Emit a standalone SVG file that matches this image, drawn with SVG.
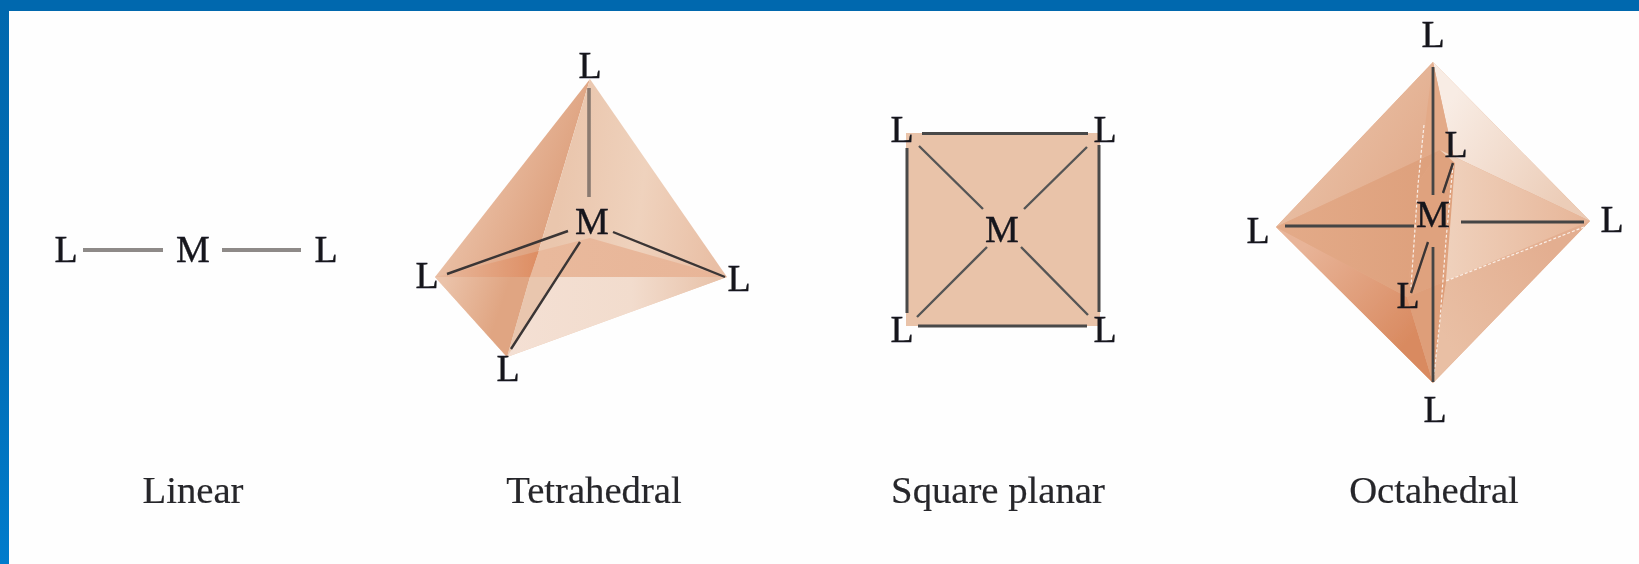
<svg xmlns="http://www.w3.org/2000/svg" width="1639" height="564" viewBox="0 0 1639 564">
<style>
text{font-family:"Liberation Serif","Times New Roman",serif;fill:#15151c;stroke:#15151c;stroke-width:0.35;text-anchor:middle}
.a{font-size:38px}
.c{font-size:38.7px;fill:#26262a;stroke:#26262a;stroke-width:0.2}
.b{stroke:#3a3636;stroke-width:2.4;fill:none}
.g{stroke:#8e8a88;stroke-width:4;fill:none}
.w{stroke:#fbeee6;stroke-width:1.2;stroke-dasharray:3 2;fill:none}
</style>
<defs>
<linearGradient id="barV" x1="0" y1="0" x2="0" y2="1"><stop offset="0" stop-color="#0068ae"/><stop offset="0.55" stop-color="#006cb4"/><stop offset="1" stop-color="#007ccc"/></linearGradient>
<linearGradient id="t1" gradientUnits="userSpaceOnUse" x1="470" y1="200" x2="570" y2="240"><stop offset="0" stop-color="#e9bda2"/><stop offset="1" stop-color="#db9a75"/></linearGradient>
<linearGradient id="t2" gradientUnits="userSpaceOnUse" x1="560" y1="200" x2="720" y2="220"><stop offset="0" stop-color="#eac6ad"/><stop offset="0.5" stop-color="#efd2bd"/><stop offset="1" stop-color="#e9bfa5"/></linearGradient>
<linearGradient id="t3" gradientUnits="userSpaceOnUse" x1="500" y1="300" x2="720" y2="300"><stop offset="0" stop-color="#f4e0d4"/><stop offset="0.6" stop-color="#f2dccd"/><stop offset="1" stop-color="#e8c2a9"/></linearGradient>
<linearGradient id="t4" gradientUnits="userSpaceOnUse" x1="440" y1="290" x2="500" y2="310"><stop offset="0" stop-color="#ebc3aa"/><stop offset="1" stop-color="#e0a582"/></linearGradient>
<linearGradient id="t5a" gradientUnits="userSpaceOnUse" x1="440" y1="270" x2="535" y2="270"><stop offset="0" stop-color="#e8b89c"/><stop offset="1" stop-color="#de8f65"/></linearGradient>
<linearGradient id="t5b" gradientUnits="userSpaceOnUse" x1="540" y1="260" x2="720" y2="260"><stop offset="0" stop-color="#e9b99c"/><stop offset="1" stop-color="#e8b598"/></linearGradient>
<linearGradient id="o1" gradientUnits="userSpaceOnUse" x1="1330" y1="120" x2="1430" y2="180"><stop offset="0" stop-color="#e8bda2"/><stop offset="1" stop-color="#e2ab8b"/></linearGradient>
<linearGradient id="o2" gradientUnits="userSpaceOnUse" x1="1445" y1="110" x2="1570" y2="190"><stop offset="0" stop-color="#f8ece4"/><stop offset="1" stop-color="#eccdb8"/></linearGradient>
<linearGradient id="o3" gradientUnits="userSpaceOnUse" x1="1310" y1="240" x2="1415" y2="335"><stop offset="0" stop-color="#e8b498"/><stop offset="1" stop-color="#d98a60"/></linearGradient>
<linearGradient id="o4" gradientUnits="userSpaceOnUse" x1="1440" y1="330" x2="1560" y2="260"><stop offset="0" stop-color="#e9bfa4"/><stop offset="1" stop-color="#e3ae90"/></linearGradient>
<linearGradient id="o5" gradientUnits="userSpaceOnUse" x1="1290" y1="220" x2="1420" y2="220"><stop offset="0" stop-color="#e3aa88"/><stop offset="1" stop-color="#dea17d"/></linearGradient>
<linearGradient id="o6" gradientUnits="userSpaceOnUse" x1="1450" y1="220" x2="1585" y2="220"><stop offset="0" stop-color="#efd0bb"/><stop offset="1" stop-color="#e7b699"/></linearGradient>
<filter id="soft" x="-5%" y="-5%" width="110%" height="110%"><feGaussianBlur stdDeviation="0.7"/></filter>
<filter id="softer" x="-5%" y="-5%" width="110%" height="110%"><feGaussianBlur stdDeviation="0.5"/></filter>
</defs>
<rect width="1639" height="564" fill="#fefefe"/>
<g id="frame"><rect width="9" height="564" fill="url(#barV)"/><rect width="1639" height="11" fill="#0068ae"/></g>
<g filter="url(#soft)">
<g id="tetra-faces">
<polygon points="590,79 435,277 507,357" fill="url(#t1)"/>
<polygon points="590,79 727,277 507,357" fill="url(#t2)"/>
<polygon points="435,277 727,277 507,357" fill="url(#t3)"/>
<polygon points="435,277 507,357 530,277" fill="url(#t4)"/>
<polygon points="530,277 507,357 557,277" fill="#e9c6ae"/>
<polygon points="435,277 539,251 530,277" fill="url(#t5a)"/>
<polygon points="539,251 590,238 727,277 530,277" fill="url(#t5b)"/>
</g>
<g id="square-face"><rect x="906" y="133" width="194" height="193" fill="#e9c3a9"/></g>
<g id="octa-faces">
<polygon points="1433,62 1276,227 1433,383 1590,221" fill="#e3ab8a"/>
<polygon points="1433,62 1276,227 1440,150" fill="url(#o1)"/>
<polygon points="1433,62 1590,221 1440,150 1455,163" fill="url(#o2)"/>
<polygon points="1433,62 1455,163 1440,150 1421,158" fill="#e3aa88"/>
<polygon points="1276,227 1433,383 1407,297" fill="url(#o3)"/>
<polygon points="1590,221 1433,383 1440,320 1446,281" fill="url(#o4)"/>
<polygon points="1407,297 1433,383 1440,320 1446,281" fill="#de9e79"/>
<polygon points="1276,227 1440,150 1420,180 1407,297" fill="url(#o5)"/>
<polygon points="1420,180 1440,150 1455,163 1446,281 1407,297" fill="#dfa27e"/>
<polygon points="1440,150 1590,221 1446,281 1455,163" fill="url(#o6)"/>
<path class="w" d="M1424,125 L1418,185 L1411,287 M1453,165 L1446,240 L1440,320 L1434,375 M1584,227 L1446,281"/>
</g>
</g>
<g id="connectors" filter="url(#soft)">
<path class="g" d="M83,250H163M222,250H301"/>
<path class="b" style="stroke:#8a7a70;stroke-width:3.6" d="M589,88V197"/>
<path class="b" d="M447,274L568,231M613,232L725,277M580,242L511,349"/>
<path class="b" style="stroke:#4a4848;stroke-width:3" d="M922,133.500H1088M918,326H1087M907,148V313M1099,145V312"/>
<path class="b" style="stroke:#555" d="M919,146L983,209M1087,147L1024,209M917,317L987,247M1088,315L1021,247"/>
<path class="b" style="stroke-width:2.8;stroke:#444" d="M1433,67V195M1433,247V382M1285,226H1414M1461,222H1584"/>
<path class="b" d="M1453,163L1443,193M1428,242L1411,293"/>
</g>
<g id="linear" filter="url(#softer)">
<text class="a" x="66" y="262">L</text><text class="a" x="193" y="262">M</text><text class="a" x="326" y="262">L</text>
<text class="c" x="193" y="503">Linear</text>
</g>
<g id="tetrahedral" filter="url(#softer)">
<text class="a" x="590" y="78">L</text><text class="a" x="592" y="234">M</text><text class="a" x="427" y="288">L</text><text class="a" x="739" y="291">L</text><text class="a" x="508" y="381">L</text>
<text class="c" x="594" y="503">Tetrahedral</text>
</g>
<g id="square-planar" filter="url(#softer)">
<text class="a" x="902" y="142">L</text><text class="a" x="1105" y="142">L</text><text class="a" x="1002" y="242">M</text><text class="a" x="902" y="342">L</text><text class="a" x="1105" y="342">L</text>
<text class="c" x="998" y="503">Square planar</text>
</g>
<g id="octahedral" filter="url(#softer)">
<text class="a" x="1433" y="47">L</text><text class="a" x="1456" y="157">L</text><text class="a" x="1433" y="227">M</text><text class="a" x="1258" y="243">L</text><text class="a" x="1612" y="232">L</text><text class="a" x="1408" y="308">L</text><text class="a" x="1435" y="422">L</text>
<text class="c" x="1434" y="503">Octahedral</text>
</g>
</svg>
